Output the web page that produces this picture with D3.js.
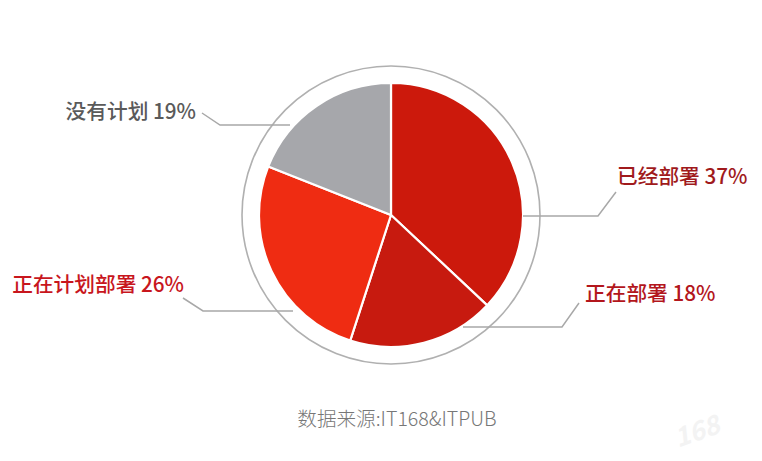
<!DOCTYPE html>
<html><head><meta charset="utf-8">
<script src="https://cdn.jsdelivr.net/npm/d3@7"></script>
<style>
html,body{margin:0;padding:0;background:#fff;}
text{font-family:"Noto Sans CJK SC","Noto Sans",sans-serif;}
</style></head>
<body><svg id="c" width="762" height="461"></svg>
<script>
const categories = ["已经部署","正在部署","正在计划部署","没有计划"];
const values = [37,18,26,19];
const sliceColors = ["#cc190c","#c71a0f","#ef2c12","#a6a7ab"];
const labelColors = ["#a01a1c","#b3161c","#c8161d","#5a5a5a"];
const source = "数据来源:IT168&ITPUB";

const svg = d3.select("#c");
const cx = 391, cy = 215, R = 132, ringR = 149;

svg.append("circle").attr("cx",cx).attr("cy",cy).attr("r",ringR)
  .attr("fill","none").attr("stroke","#b0b0b0").attr("stroke-width",1.6);

const pie = d3.pie().sort(null).value(d=>d)(values);
const arc = d3.arc().innerRadius(0).outerRadius(R);
const g = svg.append("g").attr("transform",`translate(${cx},${cy})`);
g.selectAll("path").data(pie).join("path")
  .attr("d",arc).attr("fill",(d,i)=>sliceColors[i])
  .attr("stroke","#fff").attr("stroke-width",2.2).attr("stroke-linejoin","round");

const leaders = [
  {pts:[[523,216],[598,216],[616,192]], tx:617, ty:175, anchor:"start"},
  {pts:[[463,327],[562,327],[579,303]], tx:585, ty:292, anchor:"start"},
  {pts:[[293,311],[203,311],[183,298]], tx:184, ty:283, anchor:"end"},
  {pts:[[290,125],[220,125],[202,113]], tx:196, ty:110, anchor:"end"}
];
leaders.forEach((L,i)=>{
  svg.append("path").attr("d",d3.line()(L.pts))
    .attr("fill","none").attr("stroke","#a8a8a8").attr("stroke-width",1.5);
  svg.append("text").attr("x",L.tx).attr("y",L.ty)
    .attr("text-anchor",L.anchor).attr("dominant-baseline","central")
    .attr("font-size",20.7).attr("font-weight",500).attr("fill",labelColors[i])
    .text(categories[i]+" "+values[i]+"%");
});

svg.append("text").attr("x",397).attr("y",417).attr("text-anchor","middle")
  .attr("dominant-baseline","central").attr("font-size",19.6).attr("font-weight",300)
  .attr("fill","#777").text(source);

svg.append("text").attr("x",700).attr("y",440).attr("text-anchor","middle")
  .attr("transform","rotate(-20,700,440)")
  .attr("font-size",26).attr("font-weight",700).attr("font-style","italic")
  .attr("fill","#f3f3f3").text("168");
</script></body></html>
